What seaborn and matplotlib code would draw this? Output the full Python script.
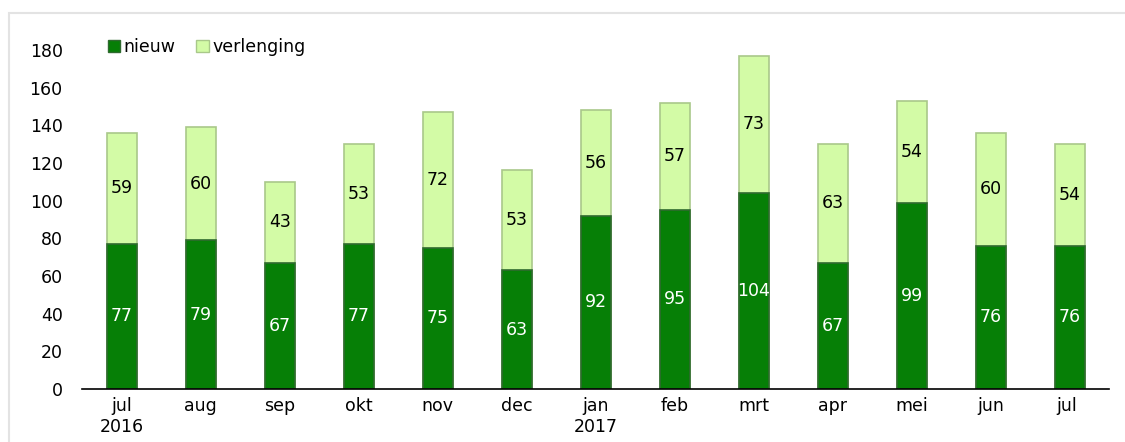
import matplotlib
matplotlib.use("Agg")
import matplotlib.pyplot as plt
from matplotlib.patches import Patch, Rectangle
import seaborn as sns
import pandas as pd

# data
maanden = ["jul\n2016", "aug", "sep", "okt", "nov", "dec", "jan\n2017",
           "feb", "mrt", "apr", "mei", "jun", "jul "]
nieuw = [77, 79, 67, 77, 75, 63, 92, 95, 104, 67, 99, 76, 76]
verlenging = [59, 60, 43, 53, 72, 53, 56, 57, 73, 63, 54, 60, 54]

DARK = "#067f06"
LIGHT = "#d3fba6"
FS = 12.5

sns.set_style("white")
plt.rcParams["font.family"] = ["DejaVu Sans"]
plt.rcParams["text.color"] = "black"

df = pd.DataFrame({"maand": maanden, "nieuw": nieuw, "verlenging": verlenging})
df["totaal"] = df["nieuw"] + df["verlenging"]

fig = plt.figure(figsize=(11.25, 4.42), dpi=100)
ax = fig.add_axes([0.073, 0.12, 0.913, 0.767])

sns.barplot(data=df, x="maand", y="totaal", color=LIGHT, width=0.38,
            edgecolor="#a9c88a", linewidth=1.2, saturation=1, ax=ax)
sns.barplot(data=df, x="maand", y="nieuw", color=DARK, width=0.38,
            edgecolor="#2f6a2f", linewidth=1.2, saturation=1, ax=ax)

for i, (n, v) in enumerate(zip(nieuw, verlenging)):
    ax.text(i, n / 2, str(n), ha="center", va="center", color="white", fontsize=FS)
    ax.text(i, n + v / 2, str(v), ha="center", va="center", color="black", fontsize=FS)

ax.set_ylim(0, 180)
ax.set_xlim(-0.5, len(maanden) - 0.5)
ax.set_yticks(range(0, 181, 20))
ax.set_xlabel("")
ax.set_ylabel("")
ax.tick_params(axis="both", length=0, labelsize=FS, colors="black")
ax.tick_params(axis="y", pad=14)
ax.tick_params(axis="x", pad=6)
for s in ["top", "right", "left"]:
    ax.spines[s].set_visible(False)
ax.spines["bottom"].set_color("black")
ax.spines["bottom"].set_linewidth(1.2)

handles = [Patch(facecolor=DARK, edgecolor="#2f6a2f", label="nieuw"),
           Patch(facecolor=LIGHT, edgecolor="#a9c88a", label="verlenging")]
fig.legend(handles=handles, loc="center left", bbox_to_anchor=(0.096, 0.893),
           ncol=2, frameon=False, fontsize=FS, handlelength=0.7, handleheight=0.7,
           handletextpad=0.2, columnspacing=1.2, borderaxespad=0, borderpad=0,
           labelcolor="black")

# outer frame
fig.patches.append(Rectangle((9 / 1125, -0.05), 1.2, 1 - 13 / 442 + 0.05,
                             transform=fig.transFigure, fill=False,
                             edgecolor="#e3e3e3", linewidth=1.5))

fig.savefig("out.png", dpi=100)
